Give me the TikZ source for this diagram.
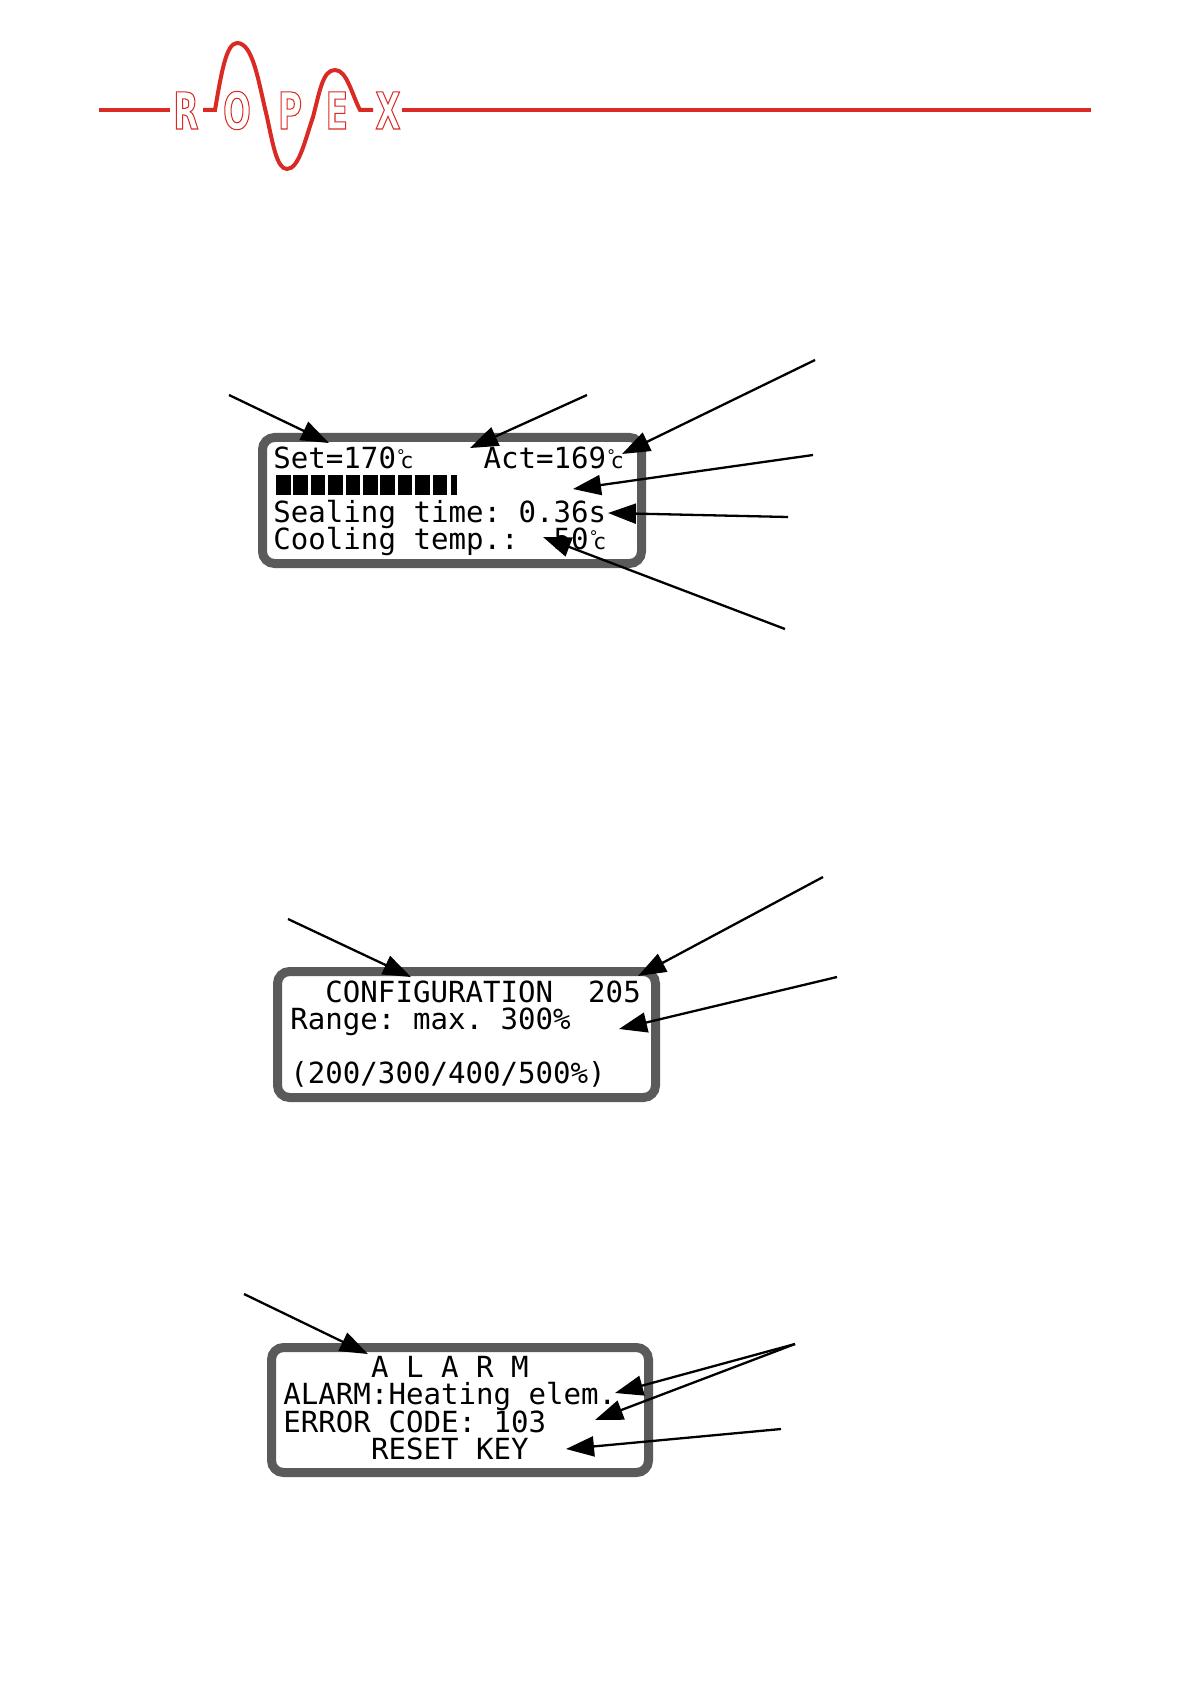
\documentclass[tikz,border=0pt]{standalone}
\usepackage{fontspec}
\setmonofont{DejaVu Sans Mono}
\newfontfamily\logofont[BoldFeatures={FakeBold=2,FakeStretch=0.64}]{DejaVu Sans}
\usetikzlibrary{positioning, arrows.meta}
\definecolor{ropexred}{HTML}{D92A24}
\definecolor{lcdgray}{HTML}{5A5A5A}
\newcommand{\logostroke}{\special{pdf:code 0.85 0.165 0.14 RG}}
\newcommand{\degc}{\makebox[8.75pt][l]{\raisebox{3.5pt}{\fontsize{8}{8}\selectfont°}\kern-2.6pt\fontsize{11}{11}\selectfont c}}

\begin{document}
\begin{tikzpicture}[
    x=0.5pt,
    y=-0.5pt,
    logoline/.style={
        line width=2pt,
        ropexred
    },
    logoletter/.style={
        font=\logofont\bfseries\fontsize{25.4}{25.4}\selectfont,
        text=white,
        inner sep=0pt,
        anchor=base
    },
    lcdframe/.style={
        draw=lcdgray,
        line width=4.5pt,
        rounded corners=6pt
    },
    lcdrow/.style={
        font=\ttfamily\fontsize{14.55}{14.55}\selectfont,
        inner sep=0pt,
        text height=10pt,
        text depth=3.25pt,
        anchor=north west
    },
    barblock/.style={
        fill=black
    },
    ptr/.style={
        -{Triangle[length=14pt,width=10pt]},
        line width=1.15pt,
        black
    }
]
    \useasboundingbox (0,0) rectangle (1190,1684);

    % Logo
    \draw[logoline] (99,110) -- (170,110);
    \draw[logoline] (203,110) -- (215,110)
        .. controls (221,75) and (226,43) .. (237,43)
        .. controls (253,43) and (258,80) .. (267,117)
        .. controls (273,145) and (277,169) .. (287,169)
        .. controls (299,169) and (305,140) .. (313,117)
        .. controls (320,90) and (323,70) .. (335,70)
        .. controls (347,70) and (352,95) .. (360,110) -- (373,110);
    \draw[logoline] (402,110) -- (1091,110);
    \node[logoletter] (logoR) at (186,129) {\logostroke R};
    \node[logoletter] (logoO) at (237,129) {\logostroke O};
    \node[logoletter] (logoP) at (290,129) {\logostroke P};
    \node[logoletter] (logoE) at (337,129) {\logostroke E};
    \node[logoletter] (logoX) at (388,129) {\logostroke X};

    % Display frames
    \path[lcdframe] (262.5,437.5) rectangle (641.5,563.5);
    \path[lcdframe] (277.5,971.5) rectangle (655.5,1097.5);
    \path[lcdframe] (271.5,1347.5) rectangle (648.5,1472.5);

    % Run display
    \node[lcdrow] (runA) at (273,448) {Set=170\degc~~~~Act=169\degc};
    \foreach \i in {0,...,9}
        \fill[barblock] (276+17.4*\i,475) rectangle ++(14.5,20);
    \fill[barblock] (451,475) rectangle (457,495);
    \node[lcdrow, below right=0pt and 0pt of runA.south west, yshift=-13.25pt] (runC) {Sealing~time:~0.36s};
    \node[lcdrow, below right=0pt and 0pt of runC.south west] (runD) {Cooling~temp.:~~50\degc};

    % Configuration display
    \node[lcdrow] (cfgA) at (290,982) {~~CONFIGURATION~~205};
    \node[lcdrow, below right=0pt and 0pt of cfgA.south west] (cfgB) {Range:~max.~300\%};
    \node[lcdrow, below right=0pt and 0pt of cfgB.south west, yshift=-13.25pt] (cfgD) {(200/300/400/500\%)};

    % Alarm display
    \node[lcdrow] (almA) at (283,1357) {~~~~~A~L~A~R~M};
    \node[lcdrow, below right=0pt and 0pt of almA.south west] (almB) {ALARM:Heating~elem.};
    \node[lcdrow, below right=0pt and 0pt of almB.south west] (almC) {ERROR~CODE:~103};
    \node[lcdrow, below right=0pt and 0pt of almC.south west] (almD) {~~~~~RESET~KEY};

    % Free ends of the pointers
    \coordinate (setFrom) at (229,395);
    \coordinate (setTip) at (329,443);
    \coordinate (barFrom) at (587,395);
    \coordinate (barTip) at (470,448);
    \coordinate (actFrom) at (815,360);
    \coordinate (actTip) at (622,454);
    \coordinate (powerFrom) at (813,455);
    \coordinate (powerTip) at (573,489);
    \coordinate (timeFrom) at (788,517);
    \coordinate (timeTip) at (608,513);
    \coordinate (coolFrom) at (785,629);
    \coordinate (coolTip) at (543,537);
    \coordinate (cfgFrom) at (288,919);
    \coordinate (cfgTip) at (411,977);
    \coordinate (numFrom) at (823,877);
    \coordinate (numTip) at (638,976);
    \coordinate (rangeFrom) at (837,977);
    \coordinate (rangeTip) at (619,1029);
    \coordinate (almFrom) at (244,1294);
    \coordinate (almTip) at (368,1354);
    \coordinate (errFrom) at (795,1344);
    \coordinate (errTipA) at (615,1393);
    \coordinate (errTipB) at (595,1420);
    \coordinate (keyFrom) at (781,1429);
    \coordinate (keyTip) at (566,1449);

    % Pointers
    \draw[ptr] (setFrom) -- (setTip);
    \draw[ptr] (barFrom) -- (barTip);
    \draw[ptr] (actFrom) -- (actTip);
    \draw[ptr] (powerFrom) -- (powerTip);
    \draw[ptr] (timeFrom) -- (timeTip);
    \draw[ptr] (coolFrom) -- (coolTip);
    \draw[ptr] (cfgFrom) -- (cfgTip);
    \draw[ptr] (numFrom) -- (numTip);
    \draw[ptr] (rangeFrom) -- (rangeTip);
    \draw[ptr] (almFrom) -- (almTip);
    \draw[ptr] (errFrom) -- (errTipA);
    \draw[ptr] (errFrom) -- (errTipB);
    \draw[ptr] (keyFrom) -- (keyTip);
\end{tikzpicture}
\end{document}
